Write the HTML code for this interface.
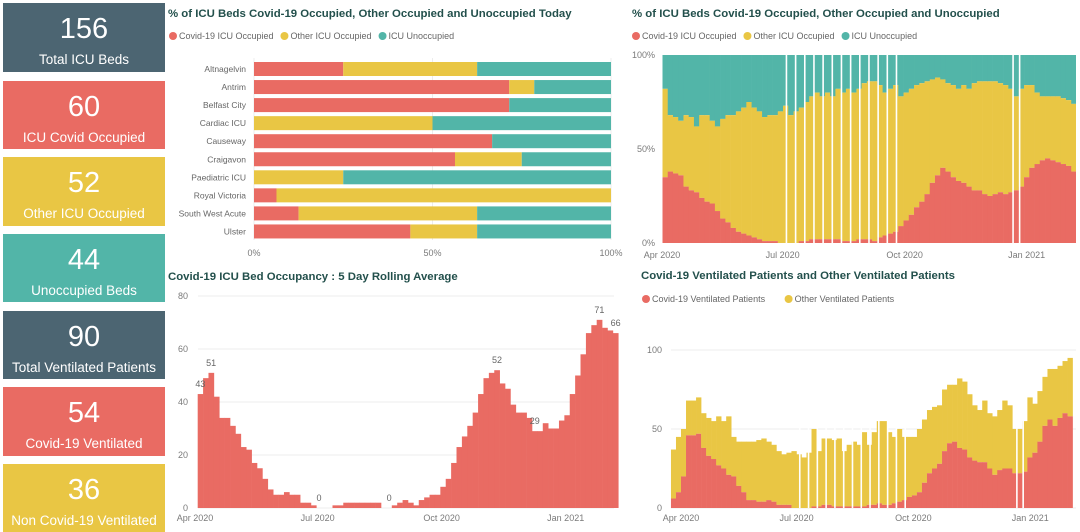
<!DOCTYPE html>
<html><head><meta charset="utf-8">
<style>
html,body{margin:0;padding:0;width:1080px;height:532px;overflow:hidden;background:#fff;font-family:"Liberation Sans","DejaVu Sans",sans-serif;}
.kpi{position:absolute;left:3px;width:162px;color:#fff;text-align:center;}
.kpi .v{font-size:29px;line-height:30px;margin-top:11px;}
.kpi .l{font-size:13.5px;line-height:16px;margin-top:8px;white-space:nowrap;}
svg{position:absolute;left:0;top:0;}
</style></head><body>
<div class="kpi" style="top:3px;height:69px;background:#4c6572"><div class="v">156</div><div class="l">Total ICU Beds</div></div>
<div class="kpi" style="top:81px;height:68px;background:#e96b63"><div class="v">60</div><div class="l">ICU Covid Occupied</div></div>
<div class="kpi" style="top:157px;height:69px;background:#e9c644"><div class="v">52</div><div class="l">Other ICU Occupied</div></div>
<div class="kpi" style="top:234px;height:68px;background:#52b5a8"><div class="v">44</div><div class="l">Unoccupied Beds</div></div>
<div class="kpi" style="top:311px;height:68px;background:#4c6572"><div class="v">90</div><div class="l">Total Ventilated Patients</div></div>
<div class="kpi" style="top:387px;height:69px;background:#e96b63"><div class="v">54</div><div class="l">Covid-19 Ventilated</div></div>
<div class="kpi" style="top:464px;height:68px;background:#e9c644"><div class="v">36</div><div class="l">Non Covid-19 Ventilated</div></div>
<svg id="s" width="1080" height="532" xmlns="http://www.w3.org/2000/svg"></svg>
<script>
// ---- Chart 1: today's % by hospital ----
const hospitals=["Altnagelvin","Antrim","Belfast City","Cardiac ICU","Causeway","Craigavon","Paediatric ICU","Royal Victoria","South West Acute","Ulster"];
const todayCovid=[25,71.5,71.5,0,66.7,56.3,0,6.3,12.5,43.8];
const todayOther=[37.5,7,0,50,0,18.7,25,93.7,50,18.7];
const pctTicks=["0%","50%","100%"];
// ---- Chart 2: % over time (4-day bins from 1 Apr 2020) ----
const pctCovid=[35,38,37,36,30,28,27,24,22,21,17,13,11,8,6,5,4,3,2,1,1,1,0,0,0,0,1,1,2,2,2,2,2,2,1,1,1,2,2,2,1,3,4,5,6,9,12,15,19,22,26,32,36,40,38,35,33,32,30,28,28,26,25,26,27,26,27,28,30,35,40,42,44,45,44,43,42,41,38];
const pctOccupied=[82,68,67,65,68,67,62,68,68,65,62,66,68,68,70,72,75,72,70,67,68,68,70,73,68,70,72,75,78,80,78,80,78,82,80,82,80,82,85,86,86,84,80,82,84,78,80,82,84,85,86,87,88,87,85,84,82,84,82,85,86,86,86,86,85,84,82,78,82,84,84,80,78,78,78,78,77,76,74];
const missingDays=[94,101,108,115,122,129,136,143,150,157,164,171,178,267,272];
// ---- Chart 3: 5 day rolling average (4-day bins from 3 Apr 2020) ----
const rollAvg=[43,49,51,42,34,34,31,28,23,22,17,15,11,7,5,5,6,5,5,2,2,1,0,0,0,1,1,2,2,2,2,2,2,2,0,0,1,2,3,2,1,3,4,5,5,8,11,17,23,27,31,36,43,49,51,52,47,45,39,36,36,34,29,29,32,30,30,33,35,43,50,58,66,69,71,68,67,66];
const rollLabels=[[0,"43"],[2,"51"],[22,"0"],[35,"0"],[55,"52"],[62,"29"],[74,"71"],[77,"66"]];
const rollTicks=[0,20,40,60,80];
// ---- Chart 4: ventilated (4-day bins from 24 Mar 2020) ----
const ventCovid=[6,10,20,46,46,47,38,33,31,27,25,21,20,14,10,5,5,4,4,5,4,2,2,2,0,0,0,0,1,1,2,2,1,1,1,1,1,1,1,2,2,3,2,2,3,4,5,7,8,10,16,22,25,28,36,41,42,38,37,32,30,29,29,25,21,24,25,25,22,22,23,32,35,42,52,56,52,57,60,58];
const ventTotal=[37,45,50,68,68,70,60,57,55,58,55,58,45,42,42,42,42,43,44,42,40,36,34,35,36,34,32,35,50,36,44,44,43,44,36,40,42,40,48,40,48,55,55,48,45,50,45,45,45,50,56,62,64,65,75,78,78,82,80,72,65,62,68,60,58,62,68,65,50,50,55,70,66,74,83,88,88,90,93,95];
const ventTicks=[0,50,100];
const months=["Apr 2020","Jul 2020","Oct 2020","Jan 2021"];
const monthDays=[0,91,183,275];

const RED="#e96b63",YEL="#e9c644",TEAL="#52b5a8",GRID="#ececec",TXT="#7a7a7a",TITLE="#23504c";
const XMAX=1076;
const svg=document.getElementById('s');
function el(tag,attrs,txt){const e=document.createElementNS("http://www.w3.org/2000/svg",tag);for(const k in attrs)e.setAttribute(k,attrs[k]);if(txt!==undefined)e.textContent=txt;svg.appendChild(e);return e;}
function title(x,y,t,name){const e=el('text',{x:x,y:y,'font-size':11.4,'font-weight':'bold',fill:TITLE},t);}
function legend(x,y,items,name){let cx=x;items.forEach(([c,t])=>{const g=el('circle',{cx:cx+4,cy:y-3,r:4,fill:c});const tx=el('text',{x:cx+10,y:y,'font-size':9,fill:'#666'},t);cx+=10+t.length*4.45+8;});}

// Chart 1
title(168,17,"% of ICU Beds Covid-19 Occupied, Other Occupied and Unoccupied Today","chart1-title");
legend(169,39,[[RED,"Covid-19 ICU Occupied"],[YEL,"Other ICU Occupied"],[TEAL,"ICU Unoccupied"]],"chart1-legend");
const c1x=v=>254+v*357/100, c1y=i=>69+i*18.05;
[0,50,100].forEach((v,i)=>{const g=el('line',{x1:c1x(v),x2:c1x(v),y1:58,y2:240,stroke:GRID});
const t=el('text',{x:c1x(v),y:256,'font-size':9,fill:TXT,'text-anchor':'middle'},pctTicks[i]);});
hospitals.forEach((h,i)=>{const y=c1y(i);
const t=el('text',{x:246,y:y+3,'font-size':8.5,fill:'#666','text-anchor':'end'},h);
const a=todayCovid[i],b=todayOther[i];
const r1=el('rect',{x:c1x(0),y:y-7,width:c1x(a)-c1x(0),height:14,fill:RED});
const r2=el('rect',{x:c1x(a),y:y-7,width:c1x(a+b)-c1x(a),height:14,fill:YEL});
const r3=el('rect',{x:c1x(a+b),y:y-7,width:c1x(100)-c1x(a+b),height:14,fill:TEAL});});

function timeAxis(x0,ppd,yb,name){months.forEach((m,i)=>{const x=x0+monthDays[i]*ppd;const t=el('text',{x:x,y:yb,'font-size':9,fill:TXT,'text-anchor':'middle'},m);});}
function gaps(x0,ppd,y1,y2,xMin,xMax,name){missingDays.forEach(d=>{const x=x0+d*ppd;if(x<xMin||x>xMax)return;const r=el('rect',{x:x,y:y1,width:1.6,height:y2-y1,fill:'#fff'});});}
function bw(x,w){return Math.max(0,Math.min(w,XMAX-x));}

// Chart 2
title(632,17,"% of ICU Beds Covid-19 Occupied, Other Occupied and Unoccupied","chart2-title");
legend(632,39,[[RED,"Covid-19 ICU Occupied"],[YEL,"Other ICU Occupied"],[TEAL,"ICU Unoccupied"]],"chart2-legend");
const c2x0=662.5,c2p=1.31,c2y=v=>243-v*1.88;
pctCovid.forEach((v,i)=>{const x=c2x0+i*4*c2p,w=bw(x,4*c2p+0.3);
const r3=el('rect',{x:x,y:c2y(100),width:w,height:c2y(pctOccupied[i])-c2y(100),fill:TEAL});
const r2=el('rect',{x:x,y:c2y(pctOccupied[i]),width:w,height:c2y(v)-c2y(pctOccupied[i]),fill:YEL});
const r1=el('rect',{x:x,y:c2y(v),width:w,height:c2y(0)-c2y(v),fill:RED});});
gaps(c2x0,c2p,c2y(100),c2y(0),663,XMAX,'chart2');
[[0,"0%"],[50,"50%"],[100,"100%"]].forEach(([v,t])=>{const e=el('text',{x:655,y:c2y(v)+3,'font-size':9,fill:TXT,'text-anchor':'end'},t);});
timeAxis(662,1.326,258,'chart2');

// Chart 3
title(168,280,"Covid-19 ICU Bed Occupancy : 5 Day Rolling Average","chart3-title");
const c3x0=195,c3p=1.348,c3y=v=>508-v*2.65,c3start=2;
rollTicks.forEach(v=>{const g=el('line',{x1:198,x2:614,y1:c3y(v),y2:c3y(v),stroke:GRID});
const t=el('text',{x:188,y:c3y(v)+3,'font-size':9,fill:TXT,'text-anchor':'end'},v);});
rollAvg.forEach((v,i)=>{const x=c3x0+(c3start+i*4)*c3p;const r=el('rect',{x:x,y:c3y(v),width:4*c3p+0.3,height:c3y(0)-c3y(v),fill:RED});});
rollLabels.forEach(([i,t])=>{const x=c3x0+(c3start+i*4+2)*c3p;const e=el('text',{x:x,y:c3y(rollAvg[i])-7,'font-size':9,fill:'#666','text-anchor':'middle'},t);});
timeAxis(c3x0,c3p,521,'chart3');

// Chart 4
title(641,279,"Covid-19 Ventilated Patients and Other Ventilated Patients","chart4-title");
legend(642,302,[[RED,"Covid-19 Ventilated Patients"],[YEL,"Other Ventilated Patients"]],"chart4-legend");
const c4x0=681,c4p=1.255,c4y=v=>508-v*1.58,c4start=-8;
ventTicks.forEach(v=>{const g=el('line',{x1:671,x2:XMAX,y1:c4y(v),y2:c4y(v),stroke:GRID});
const t=el('text',{x:662,y:c4y(v)+3,'font-size':9,fill:TXT,'text-anchor':'end'},v);});
ventTotal.forEach((v,i)=>{const x=c4x0+(c4start+i*4)*c4p,w=bw(x,4*c4p+0.3);
const r2=el('rect',{x:x,y:c4y(v),width:w,height:c4y(ventCovid[i])-c4y(v),fill:YEL});
const r1=el('rect',{x:x,y:c4y(ventCovid[i]),width:w,height:c4y(0)-c4y(ventCovid[i]),fill:RED});});
gaps(c4x0,c4p,c4y(60),c4y(0),671,XMAX,'chart4');
timeAxis(681,1.27,521,'chart4');
</script>
</body></html>
